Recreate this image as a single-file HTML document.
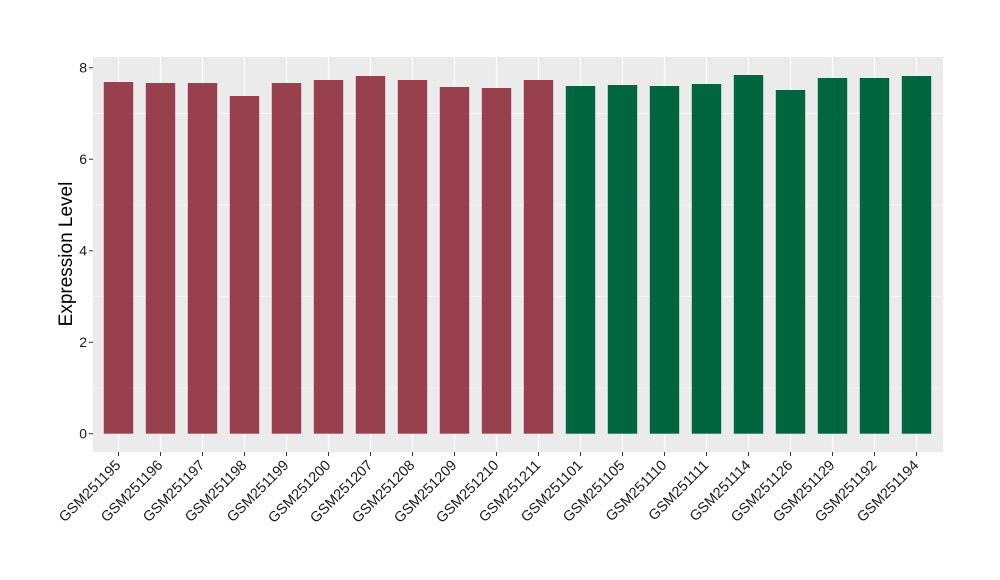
<!DOCTYPE html>
<html><head><meta charset="utf-8"><style>body{margin:0;background:#fff}svg{display:block}text{font-family:"Liberation Sans",sans-serif}</style></head><body>
<svg width="1000" height="580" xmlns="http://www.w3.org/2000/svg">
<rect x="93" y="57" width="850" height="395" fill="#ebebeb"/>
<g stroke="#fff" stroke-width="0.6">
<line x1="93" x2="943" y1="388" y2="388"/><line x1="93" x2="943" y1="296.5" y2="296.5"/><line x1="93" x2="943" y1="205" y2="205"/><line x1="93" x2="943" y1="113.4" y2="113.4"/>
</g>
<g stroke="#fff" stroke-width="1.2" id="g"></g>
<g id="b"></g>
<g id="t" font-size="14.5" fill="#1a1a1a"></g>
<g font-size="14" fill="#1a1a1a" text-anchor="end">
<text x="87" y="438.5">0</text><text x="87" y="347">2</text><text x="87" y="255.5">4</text><text x="87" y="164">6</text><text x="87" y="72.5">8</text>
</g>
<g stroke="#333" stroke-width="1">
<line x1="89" x2="93" y1="433.7" y2="433.7"/><line x1="89" x2="93" y1="342.3" y2="342.3"/><line x1="89" x2="93" y1="250.8" y2="250.8"/><line x1="89" x2="93" y1="159.2" y2="159.2"/><line x1="89" x2="93" y1="67.7" y2="67.7"/>
</g>
<text transform="translate(72,254) rotate(-90)" text-anchor="middle" font-size="19" fill="#000">Expression Level</text>
<script>
var names=["GSM251195","GSM251196","GSM251197","GSM251198","GSM251199","GSM251200","GSM251207","GSM251208","GSM251209","GSM251210","GSM251211","GSM251101","GSM251105","GSM251110","GSM251111","GSM251114","GSM251126","GSM251129","GSM251192","GSM251194"];
var tops=[82,83,83,96,83,80,76,80,87,88,80,86,85,86,84,75,90,78,78,76];
var ns="http://www.w3.org/2000/svg",g=document.getElementById("g"),b=document.getElementById("b"),t=document.getElementById("t");
var ax=document.querySelector("svg");
for(var i=0;i<20;i++){var cx=118.5+42*i;
var l=document.createElementNS(ns,"line");l.setAttribute("x1",cx);l.setAttribute("x2",cx);l.setAttribute("y1",57);l.setAttribute("y2",452);g.appendChild(l);
var r=document.createElementNS(ns,"rect");r.setAttribute("x",cx-14.7);r.setAttribute("width",29.4);r.setAttribute("y",tops[i]);r.setAttribute("height",433.7-tops[i]);r.setAttribute("fill",i<11?"#99404f":"#006641");b.appendChild(r);
var k=document.createElementNS(ns,"line");k.setAttribute("x1",cx);k.setAttribute("x2",cx);k.setAttribute("y1",452);k.setAttribute("y2",456);k.setAttribute("stroke","#333");ax.appendChild(k);
var tx=document.createElementNS(ns,"text");tx.setAttribute("text-anchor","end");tx.setAttribute("transform","translate("+(cx+3)+",466) rotate(-45)");tx.textContent=names[i];t.appendChild(tx);}
</script>
</svg>
</body></html>
